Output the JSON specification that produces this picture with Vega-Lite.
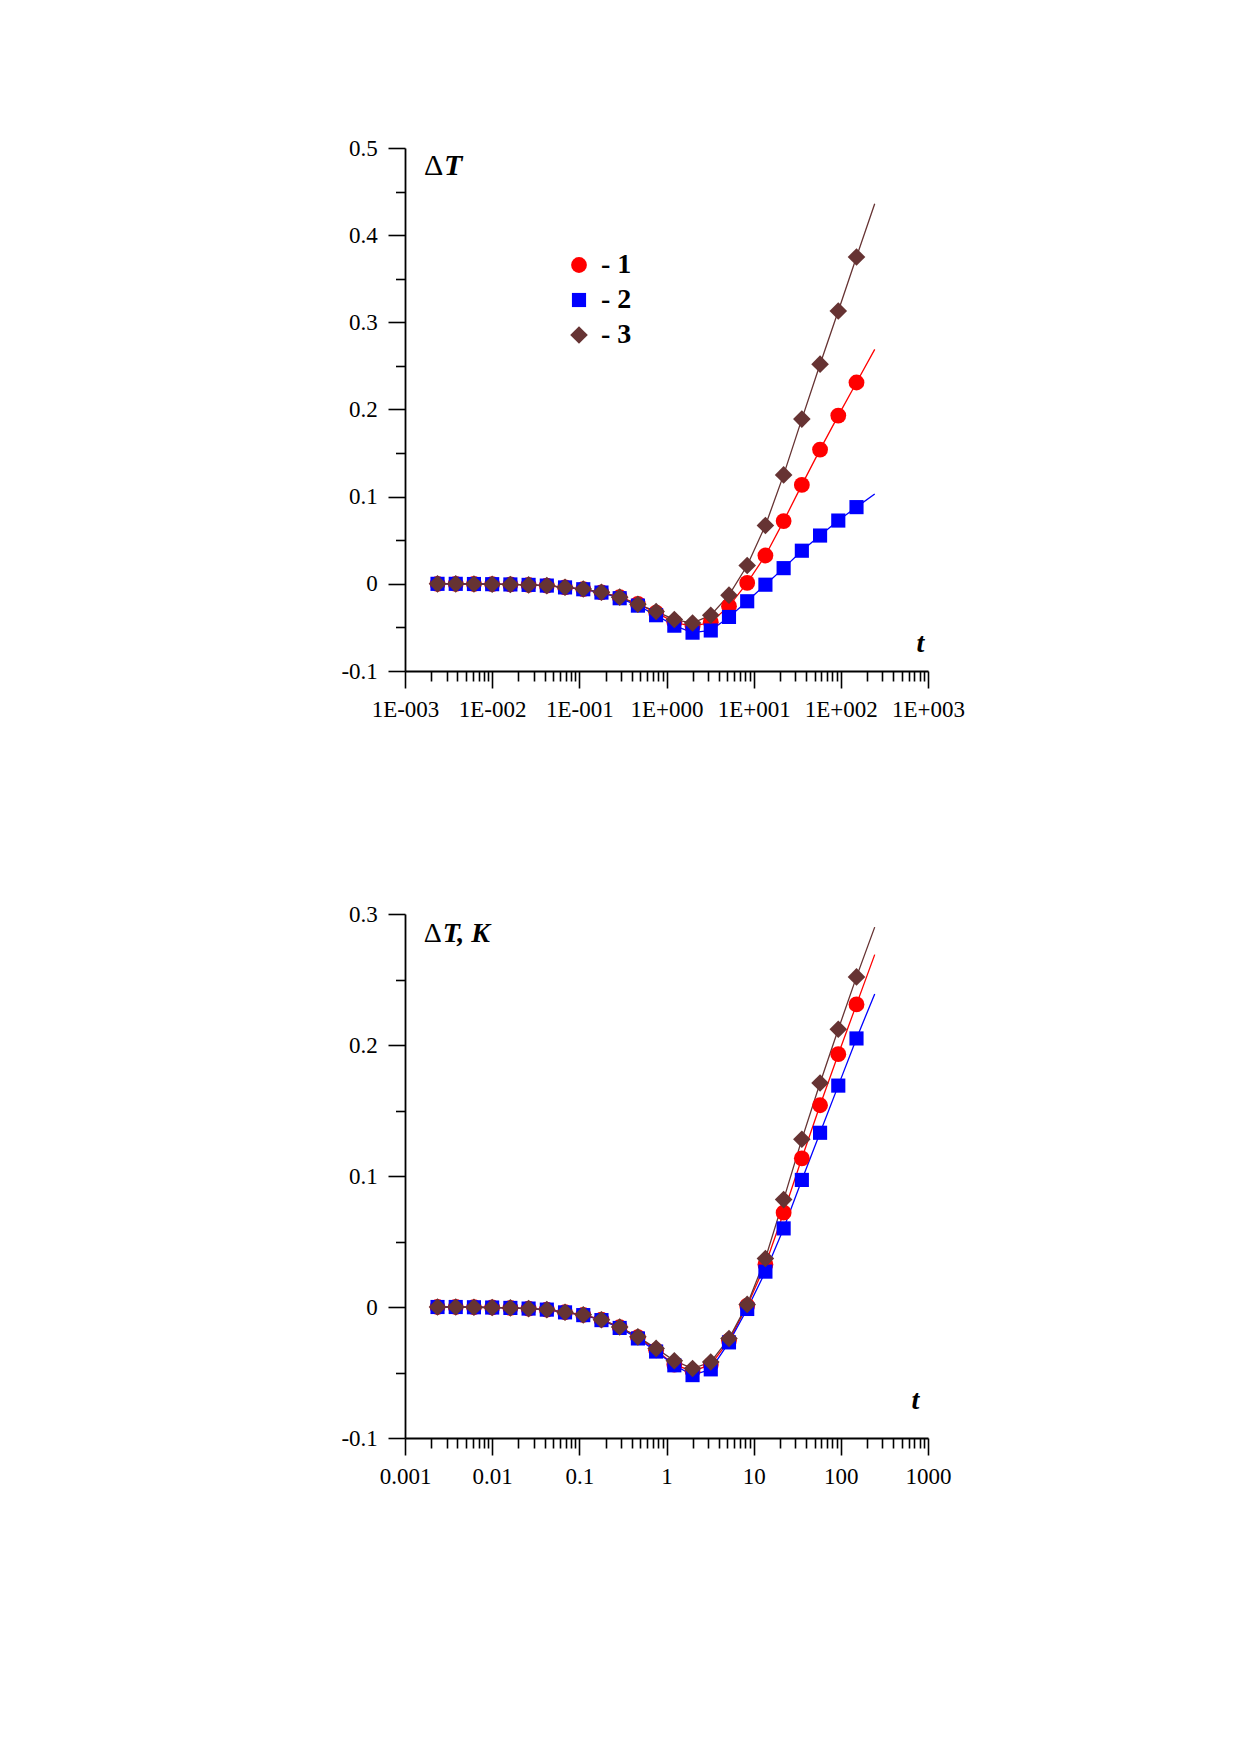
{
"$schema": "https://vega.github.io/schema/vega-lite/v6.json",
"background": "white",
"padding": {"left": 340, "top": 137, "right": 20, "bottom": 20},
"config": {
  "view": {"stroke": null},
  "font": "Liberation Serif",
  "axis": {"grid": false, "domainColor": "#000", "domainWidth": 1.8, "tickColor": "#000", "tickWidth": 1.6, "labelColor": "#000", "labelFont": "Liberation Serif", "labelFontSize": 23, "titleColor": "#000", "titleFont": "Liberation Serif"}
},
"datasets": {"d": [
{"p":"a","s":"1","t":0.002361,"v":0,"m":1},{"p":"a","s":"1","t":0.00382,"v":0,"m":1},{"p":"a","s":"1","t":0.00618,"v":-0.0002,"m":1},{"p":"a","s":"1","t":0.01,"v":-0.0004,"m":1},{"p":"a","s":"1","t":0.01618,"v":-0.0007,"m":1},{"p":"a","s":"1","t":0.02618,"v":-0.0012,"m":1},{"p":"a","s":"1","t":0.04236,"v":-0.002,"m":1},{"p":"a","s":"1","t":0.06854,"v":-0.004,"m":1},{"p":"a","s":"1","t":0.1109,"v":-0.006,"m":1},{"p":"a","s":"1","t":0.1794,"v":-0.0097,"m":1},{"p":"a","s":"1","t":0.2903,"v":-0.0153,"m":1},{"p":"a","s":"1","t":0.4698,"v":-0.023,"m":1},{"p":"a","s":"1","t":0.7601,"v":-0.033,"m":1},{"p":"a","s":"1","t":1.2299,"v":-0.044,"m":1},{"p":"a","s":"1","t":1.9899,"v":-0.049,"m":1},{"p":"a","s":"1","t":3.2197,"v":-0.044,"m":1},{"p":"a","s":"1","t":5.2096,"v":-0.0256,"m":1},{"p":"a","s":"1","t":8.4293,"v":0.001,"m":1},{"p":"a","s":"1","t":13.639,"v":0.0325,"m":1},{"p":"a","s":"1","t":22.068,"v":0.072,"m":1},{"p":"a","s":"1","t":35.707,"v":0.1135,"m":1},{"p":"a","s":"1","t":57.775,"v":0.154,"m":1},{"p":"a","s":"1","t":93.48,"v":0.193,"m":1},{"p":"a","s":"1","t":151.26,"v":0.231,"m":1},{"p":"a","s":"1","t":244.77,"v":0.269,"m":0},
{"p":"a","s":"2","t":0.002361,"v":0,"m":1},{"p":"a","s":"2","t":0.00382,"v":0,"m":1},{"p":"a","s":"2","t":0.00618,"v":-0.0002,"m":1},{"p":"a","s":"2","t":0.01,"v":-0.0004,"m":1},{"p":"a","s":"2","t":0.01618,"v":-0.0007,"m":1},{"p":"a","s":"2","t":0.02618,"v":-0.0012,"m":1},{"p":"a","s":"2","t":0.04236,"v":-0.002,"m":1},{"p":"a","s":"2","t":0.06854,"v":-0.0041,"m":1},{"p":"a","s":"2","t":0.1109,"v":-0.0062,"m":1},{"p":"a","s":"2","t":0.1794,"v":-0.01,"m":1},{"p":"a","s":"2","t":0.2903,"v":-0.0165,"m":1},{"p":"a","s":"2","t":0.4698,"v":-0.025,"m":1},{"p":"a","s":"2","t":0.7601,"v":-0.036,"m":1},{"p":"a","s":"2","t":1.2299,"v":-0.048,"m":1},{"p":"a","s":"2","t":1.9899,"v":-0.056,"m":1},{"p":"a","s":"2","t":3.2197,"v":-0.0535,"m":1},{"p":"a","s":"2","t":5.2096,"v":-0.038,"m":1},{"p":"a","s":"2","t":8.4293,"v":-0.02,"m":1},{"p":"a","s":"2","t":13.639,"v":-0.001,"m":1},{"p":"a","s":"2","t":22.068,"v":0.018,"m":1},{"p":"a","s":"2","t":35.707,"v":0.038,"m":1},{"p":"a","s":"2","t":57.775,"v":0.0554,"m":1},{"p":"a","s":"2","t":93.48,"v":0.0726,"m":1},{"p":"a","s":"2","t":151.26,"v":0.088,"m":1},{"p":"a","s":"2","t":244.77,"v":0.103,"m":0},
{"p":"a","s":"3","t":0.002361,"v":0,"m":1},{"p":"a","s":"3","t":0.00382,"v":0,"m":1},{"p":"a","s":"3","t":0.00618,"v":-0.0002,"m":1},{"p":"a","s":"3","t":0.01,"v":-0.0004,"m":1},{"p":"a","s":"3","t":0.01618,"v":-0.0007,"m":1},{"p":"a","s":"3","t":0.02618,"v":-0.0012,"m":1},{"p":"a","s":"3","t":0.04236,"v":-0.002,"m":1},{"p":"a","s":"3","t":0.06854,"v":-0.004,"m":1},{"p":"a","s":"3","t":0.1109,"v":-0.006,"m":1},{"p":"a","s":"3","t":0.1794,"v":-0.0097,"m":1},{"p":"a","s":"3","t":0.2903,"v":-0.0153,"m":1},{"p":"a","s":"3","t":0.4698,"v":-0.0235,"m":1},{"p":"a","s":"3","t":0.7601,"v":-0.0317,"m":1},{"p":"a","s":"3","t":1.2299,"v":-0.041,"m":1},{"p":"a","s":"3","t":1.9899,"v":-0.045,"m":1},{"p":"a","s":"3","t":3.2197,"v":-0.036,"m":1},{"p":"a","s":"3","t":5.2096,"v":-0.013,"m":1},{"p":"a","s":"3","t":8.4293,"v":0.021,"m":1},{"p":"a","s":"3","t":13.639,"v":0.067,"m":1},{"p":"a","s":"3","t":22.068,"v":0.125,"m":1},{"p":"a","s":"3","t":35.707,"v":0.189,"m":1},{"p":"a","s":"3","t":57.775,"v":0.252,"m":1},{"p":"a","s":"3","t":93.48,"v":0.313,"m":1},{"p":"a","s":"3","t":151.26,"v":0.375,"m":1},{"p":"a","s":"3","t":244.77,"v":0.436,"m":0},
{"p":"b","s":"1","t":0.002361,"v":0,"m":1},{"p":"b","s":"1","t":0.00382,"v":0,"m":1},{"p":"b","s":"1","t":0.00618,"v":-0.0002,"m":1},{"p":"b","s":"1","t":0.01,"v":-0.0004,"m":1},{"p":"b","s":"1","t":0.01618,"v":-0.0007,"m":1},{"p":"b","s":"1","t":0.02618,"v":-0.0012,"m":1},{"p":"b","s":"1","t":0.04236,"v":-0.002,"m":1},{"p":"b","s":"1","t":0.06854,"v":-0.004,"m":1},{"p":"b","s":"1","t":0.1109,"v":-0.006,"m":1},{"p":"b","s":"1","t":0.1794,"v":-0.0097,"m":1},{"p":"b","s":"1","t":0.2903,"v":-0.0153,"m":1},{"p":"b","s":"1","t":0.4698,"v":-0.023,"m":1},{"p":"b","s":"1","t":0.7601,"v":-0.033,"m":1},{"p":"b","s":"1","t":1.2299,"v":-0.044,"m":1},{"p":"b","s":"1","t":1.9899,"v":-0.049,"m":1},{"p":"b","s":"1","t":3.2197,"v":-0.044,"m":1},{"p":"b","s":"1","t":5.2096,"v":-0.0256,"m":1},{"p":"b","s":"1","t":8.4293,"v":0.001,"m":1},{"p":"b","s":"1","t":13.639,"v":0.0325,"m":1},{"p":"b","s":"1","t":22.068,"v":0.072,"m":1},{"p":"b","s":"1","t":35.707,"v":0.1135,"m":1},{"p":"b","s":"1","t":57.775,"v":0.154,"m":1},{"p":"b","s":"1","t":93.48,"v":0.193,"m":1},{"p":"b","s":"1","t":151.26,"v":0.231,"m":1},{"p":"b","s":"1","t":244.77,"v":0.269,"m":0},
{"p":"b","s":"2","t":0.002361,"v":0,"m":1},{"p":"b","s":"2","t":0.00382,"v":0,"m":1},{"p":"b","s":"2","t":0.00618,"v":-0.0002,"m":1},{"p":"b","s":"2","t":0.01,"v":-0.0004,"m":1},{"p":"b","s":"2","t":0.01618,"v":-0.0007,"m":1},{"p":"b","s":"2","t":0.02618,"v":-0.0012,"m":1},{"p":"b","s":"2","t":0.04236,"v":-0.002,"m":1},{"p":"b","s":"2","t":0.06854,"v":-0.0041,"m":1},{"p":"b","s":"2","t":0.1109,"v":-0.0062,"m":1},{"p":"b","s":"2","t":0.1794,"v":-0.01,"m":1},{"p":"b","s":"2","t":0.2903,"v":-0.016,"m":1},{"p":"b","s":"2","t":0.4698,"v":-0.024,"m":1},{"p":"b","s":"2","t":0.7601,"v":-0.034,"m":1},{"p":"b","s":"2","t":1.2299,"v":-0.0445,"m":1},{"p":"b","s":"2","t":1.9899,"v":-0.052,"m":1},{"p":"b","s":"2","t":3.2197,"v":-0.0476,"m":1},{"p":"b","s":"2","t":5.2096,"v":-0.027,"m":1},{"p":"b","s":"2","t":8.4293,"v":-0.0015,"m":1},{"p":"b","s":"2","t":13.639,"v":0.027,"m":1},{"p":"b","s":"2","t":22.068,"v":0.06,"m":1},{"p":"b","s":"2","t":35.707,"v":0.097,"m":1},{"p":"b","s":"2","t":57.775,"v":0.133,"m":1},{"p":"b","s":"2","t":93.48,"v":0.169,"m":1},{"p":"b","s":"2","t":151.26,"v":0.205,"m":1},{"p":"b","s":"2","t":244.77,"v":0.239,"m":0},
{"p":"b","s":"3","t":0.002361,"v":0,"m":1},{"p":"b","s":"3","t":0.00382,"v":0,"m":1},{"p":"b","s":"3","t":0.00618,"v":-0.0002,"m":1},{"p":"b","s":"3","t":0.01,"v":-0.0004,"m":1},{"p":"b","s":"3","t":0.01618,"v":-0.0007,"m":1},{"p":"b","s":"3","t":0.02618,"v":-0.0012,"m":1},{"p":"b","s":"3","t":0.04236,"v":-0.002,"m":1},{"p":"b","s":"3","t":0.06854,"v":-0.004,"m":1},{"p":"b","s":"3","t":0.1109,"v":-0.006,"m":1},{"p":"b","s":"3","t":0.1794,"v":-0.0097,"m":1},{"p":"b","s":"3","t":0.2903,"v":-0.0153,"m":1},{"p":"b","s":"3","t":0.4698,"v":-0.0228,"m":1},{"p":"b","s":"3","t":0.7601,"v":-0.0316,"m":1},{"p":"b","s":"3","t":1.2299,"v":-0.041,"m":1},{"p":"b","s":"3","t":1.9899,"v":-0.047,"m":1},{"p":"b","s":"3","t":3.2197,"v":-0.042,"m":1},{"p":"b","s":"3","t":5.2096,"v":-0.024,"m":1},{"p":"b","s":"3","t":8.4293,"v":0.002,"m":1},{"p":"b","s":"3","t":13.639,"v":0.037,"m":1},{"p":"b","s":"3","t":22.068,"v":0.082,"m":1},{"p":"b","s":"3","t":35.707,"v":0.128,"m":1},{"p":"b","s":"3","t":57.775,"v":0.171,"m":1},{"p":"b","s":"3","t":93.48,"v":0.212,"m":1},{"p":"b","s":"3","t":151.26,"v":0.252,"m":1},{"p":"b","s":"3","t":244.77,"v":0.29,"m":0}
]},
"spacing": 181,
"resolve": {"scale": {"color": "independent", "shape": "independent", "size": "independent"}},
"vconcat": [
{
  "width": 523, "height": 523,
  "data": {"name": "d"},
  "transform": [{"filter": "datum.p == 'a'"}],
  "layer": [
    {
      "mark": {"type": "line", "strokeWidth": 1.3},
      "encoding": {
        "x": {"field": "t", "type": "quantitative", "scale": {"type": "log", "domain": [0.001, 1000], "nice": false},
          "axis": {"orient": "bottom", "values": [0.001, 0.01, 0.1, 1, 10, 100, 1000], "tickSize": 17, "labelPadding": 10.5, "labelFlush": false, "labelOverlap": false,
            "labelExpr": "['1E-003','1E-002','1E-001','1E+000','1E+001','1E+002','1E+003'][round(log(datum.value)/LN10)+3]",
            "title": "t", "titleFontSize": 28, "titleFontStyle": "italic", "titleFontWeight": "bold", "titleX": 515, "titleY": -20, "titleAlign": "center", "titleBaseline": "alphabetic"}},
        "y": {"field": "v", "type": "quantitative", "scale": {"domain": [-0.1, 0.5], "nice": false, "zero": false},
          "axis": {"orient": "left", "values": [-0.1, 0, 0.1, 0.2, 0.3, 0.4, 0.5], "tickSize": 17, "labelPadding": 10.7, "labelOverlap": false,
            "labelExpr": "datum.value < 0 ? '-' + format(-datum.value, '.1~f') : format(datum.value, '.1~f')",
            "title": "T", "titleAngle": 0, "titleX": 38.6, "titleY": 26.7, "titleAlign": "left", "titleBaseline": "alphabetic", "titleFontSize": 30, "titleFontStyle": "italic", "titleFontWeight": "bold"}},
        "color": {"field": "s", "type": "nominal", "scale": {"domain": ["1", "2", "3"], "range": ["#ff0000", "#0000ff", "#663333"]}, "legend": null}
      }
    },
    {
      "transform": [{"filter": "datum.m == 1"}],
      "mark": {"type": "point", "filled": true, "opacity": 1},
      "encoding": {
        "x": {"field": "t", "type": "quantitative", "axis": null},
        "y": {"field": "v", "type": "quantitative", "axis": null},
        "color": {"field": "s", "type": "nominal", "scale": {"domain": ["1", "2", "3"], "range": ["#ff0000", "#0000ff", "#663333"]},
          "legend": {"orient": "none", "legendX": 160, "legendY": 103, "title": null, "symbolSize": 400, "labelFont": "Liberation Serif", "labelFontSize": 28, "labelFontWeight": "bold", "labelColor": "#000", "labelOffset": 8, "rowPadding": 7, "padding": 0, "symbolStrokeWidth": 0, "labelExpr": "'- ' + datum.label"}},
        "shape": {"field": "s", "type": "nominal", "scale": {"domain": ["1", "2", "3"], "range": ["circle", "square", "diamond"]},
          "legend": {"orient": "none", "legendX": 160, "legendY": 103, "title": null, "symbolSize": 400, "labelFont": "Liberation Serif", "labelFontSize": 28, "labelFontWeight": "bold", "labelColor": "#000", "labelOffset": 8, "rowPadding": 7, "padding": 0, "symbolStrokeWidth": 0, "labelExpr": "'- ' + datum.label"}},
        "size": {"field": "s", "type": "nominal", "scale": {"type": "ordinal", "domain": ["1", "2", "3"], "range": [250, 200, 310]}, "legend": null}
      }
    },
    {
      "mark": {"type": "point", "opacity": 0},
      "encoding": {
        "x": {"field": "t", "type": "quantitative",
          "axis": {"orient": "bottom", "values": [0.002,0.003,0.004,0.005,0.006,0.007,0.008,0.009,0.02,0.03,0.04,0.05,0.06,0.07,0.08,0.09,0.2,0.3,0.4,0.5,0.6,0.7,0.8,0.9,2,3,4,5,6,7,8,9,20,30,40,50,60,70,80,90,200,300,400,500,600,700,800,900], "tickSize": 10, "labels": false, "domain": false, "title": null}},
        "y": {"field": "v", "type": "quantitative",
          "axis": {"orient": "left", "values": [-0.05, 0.05, 0.15, 0.25, 0.35, 0.45], "tickSize": 9.5, "labels": false, "domain": false,
            "title": "Δ", "titleAngle": 0, "titleX": 18.6, "titleY": 26.7, "titleAlign": "left", "titleBaseline": "alphabetic", "titleFontSize": 30, "titleFontStyle": "normal", "titleFontWeight": "normal"}}
      }
    }
  ],
  "resolve": {"axis": {"x": "independent", "y": "independent"}, "legend": {"color": "independent", "shape": "independent", "size": "independent"}}
},
{
  "width": 523, "height": 524,
  "data": {"name": "d"},
  "transform": [{"filter": "datum.p == 'b'"}],
  "layer": [
    {
      "mark": {"type": "line", "strokeWidth": 1.3},
      "encoding": {
        "x": {"field": "t", "type": "quantitative", "scale": {"type": "log", "domain": [0.001, 1000], "nice": false},
          "axis": {"orient": "bottom", "values": [0.001, 0.01, 0.1, 1, 10, 100, 1000], "tickSize": 17, "labelPadding": 10.5, "labelFlush": false, "labelOverlap": false,
            "labelExpr": "['0.001','0.01','0.1','1','10','100','1000'][round(log(datum.value)/LN10)+3]",
            "title": "t", "titleFontSize": 28, "titleFontStyle": "italic", "titleFontWeight": "bold", "titleX": 510, "titleY": -30, "titleAlign": "center", "titleBaseline": "alphabetic"}},
        "y": {"field": "v", "type": "quantitative", "scale": {"domain": [-0.1, 0.3], "nice": false, "zero": false},
          "axis": {"orient": "left", "values": [-0.1, 0, 0.1, 0.2, 0.3], "tickSize": 17, "labelPadding": 10.7, "labelOverlap": false,
            "labelExpr": "datum.value < 0 ? '-' + format(-datum.value, '.1~f') : format(datum.value, '.1~f')",
            "title": "T, K", "titleAngle": 0, "titleX": 37.3, "titleY": 27.7, "titleAlign": "left", "titleBaseline": "alphabetic", "titleFontSize": 28, "titleFontStyle": "italic", "titleFontWeight": "bold"}},
        "color": {"field": "s", "type": "nominal", "scale": {"domain": ["1", "2", "3"], "range": ["#ff0000", "#0000ff", "#663333"]}, "legend": null}
      }
    },
    {
      "transform": [{"filter": "datum.m == 1"}],
      "mark": {"type": "point", "filled": true, "opacity": 1},
      "encoding": {
        "x": {"field": "t", "type": "quantitative", "axis": null},
        "y": {"field": "v", "type": "quantitative", "axis": null},
        "color": {"field": "s", "type": "nominal", "scale": {"domain": ["1", "2", "3"], "range": ["#ff0000", "#0000ff", "#663333"]}, "legend": null},
        "shape": {"field": "s", "type": "nominal", "scale": {"domain": ["1", "2", "3"], "range": ["circle", "square", "diamond"]}, "legend": null},
        "size": {"field": "s", "type": "nominal", "scale": {"type": "ordinal", "domain": ["1", "2", "3"], "range": [250, 200, 310]}, "legend": null}
      }
    },
    {
      "mark": {"type": "point", "opacity": 0},
      "encoding": {
        "x": {"field": "t", "type": "quantitative",
          "axis": {"orient": "bottom", "values": [0.002,0.003,0.004,0.005,0.006,0.007,0.008,0.009,0.02,0.03,0.04,0.05,0.06,0.07,0.08,0.09,0.2,0.3,0.4,0.5,0.6,0.7,0.8,0.9,2,3,4,5,6,7,8,9,20,30,40,50,60,70,80,90,200,300,400,500,600,700,800,900], "tickSize": 10, "labels": false, "domain": false, "title": null}},
        "y": {"field": "v", "type": "quantitative",
          "axis": {"orient": "left", "values": [-0.05, 0.05, 0.15, 0.25], "tickSize": 9.5, "labels": false, "domain": false,
            "title": "Δ", "titleAngle": 0, "titleX": 18.3, "titleY": 27.7, "titleAlign": "left", "titleBaseline": "alphabetic", "titleFontSize": 28, "titleFontStyle": "normal", "titleFontWeight": "normal"}}
      }
    }
  ],
  "resolve": {"axis": {"x": "independent", "y": "independent"}}
}
]
}
